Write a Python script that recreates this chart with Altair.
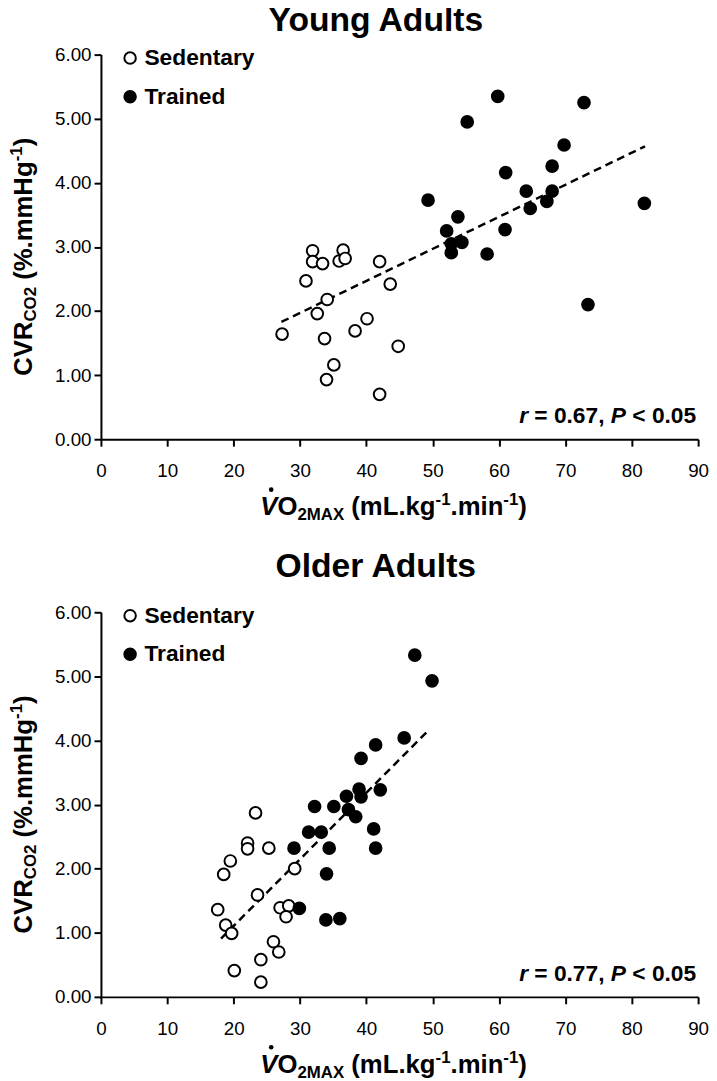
import altair as alt
import pandas as pd

FONT = "Liberation Sans"

# ---------------- data ----------------
panel_titles = ["Young Adults", "Older Adults"]
r_values = ["0.67", "0.77"]
x_ticks = [0, 10, 20, 30, 40, 50, 60, 70, 80, 90]
y_ticks = [0, 1, 2, 3, 4, 5, 6]
groups = ["Sedentary", "Trained"]

young_sed_x = [31.9, 36.5, 31.9, 33.4, 35.9, 36.8, 42.0, 30.9, 43.6, 34.1, 32.6, 40.1, 38.3, 27.3, 33.7, 44.8, 35.1, 34.0, 42.0]
young_sed_y = [2.94, 2.95, 2.77, 2.74, 2.78, 2.82, 2.77, 2.47, 2.42, 2.18, 1.96, 1.88, 1.69, 1.64, 1.57, 1.45, 1.16, 0.93, 0.70]
young_tr_x = [59.8, 72.8, 55.2, 69.8, 68.0, 61.0, 64.1, 68.0, 64.7, 67.2, 49.3, 81.9, 53.8, 52.1, 60.9, 52.8, 54.4, 52.8, 58.2, 73.4]
young_tr_y = [5.35, 5.25, 4.95, 4.59, 4.26, 4.16, 3.87, 3.87, 3.60, 3.71, 3.73, 3.68, 3.47, 3.25, 3.27, 3.05, 3.07, 2.91, 2.89, 2.10]
young_fit_x = [27.2, 82.0]
young_fit_y = [1.83, 4.57]

old_sed_x = [23.3, 22.1, 22.1, 25.3, 19.5, 18.5, 29.2, 23.6, 17.6, 27.0, 28.3, 27.9, 18.8, 19.7, 26.0, 26.8, 24.1, 20.1, 24.1]
old_sed_y = [2.87, 2.40, 2.31, 2.32, 2.12, 1.91, 2.00, 1.59, 1.36, 1.39, 1.42, 1.25, 1.12, 0.99, 0.86, 0.70, 0.58, 0.41, 0.23]
old_tr_x = [47.3, 49.9, 45.7, 41.4, 39.2, 38.9, 42.1, 37.0, 39.2, 32.2, 35.1, 37.3, 38.4, 41.1, 31.3, 33.2, 29.1, 34.4, 41.4, 34.0, 29.9, 33.9, 36.0]
old_tr_y = [5.33, 4.93, 4.04, 3.93, 3.72, 3.24, 3.23, 3.13, 3.12, 2.97, 2.97, 2.92, 2.81, 2.62, 2.57, 2.57, 2.32, 2.32, 2.32, 1.92, 1.38, 1.20, 1.22]
old_fit_x = [18.1, 49.1]
old_fit_y = [0.91, 4.13]

# ---------------- layout ----------------
W, H = 604, 389

AW = {' ': 278, '(': 333, ')': 333, '%': 889, '.': 278, ',': 278, '-': 333, '=': 584, '<': 584,
      'A': 722, 'C': 722, 'H': 722, 'L': 611, 'M': 833, 'O': 778, 'P': 667, 'R': 722, 'V': 667,
      'X': 667, 'a': 556, 'd': 611, 'e': 556, 'g': 611, 'i': 278, 'k': 556, 'l': 278, 'm': 889,
      'n': 611, 'r': 389, 's': 556, 't': 333, 'u': 611, 'y': 556, 'o': 611}


def tw(s, fs):
    return sum(AW.get(c, 556) for c in s) * fs / 1000.0


one = pd.DataFrame({"k": [0]})


def txt(s, x, y, fs, align="left", baseline="alphabetic", angle=0, style="normal"):
    return alt.Chart(one).mark_text(
        text=s, font=FONT, fontSize=fs, fontWeight="bold", fontStyle=style,
        align=align, baseline=baseline, angle=angle, color="black"
    ).encode(x=alt.value(x), y=alt.value(y))


def x_title_layers():
    pieces = [("V", 26, 0, "italic", 0), ("O", 26, 0, "normal", 0), ("2MAX", 17, 5, "normal", 0),
              ("(mL.kg", 26, 0, "normal", tw(" ", 26)), ("-1", 17, -10, "normal", 0),
              (".min", 26, 0, "normal", 0), ("-1", 17, -10, "normal", 0), (")", 26, 0, "normal", 0)]
    total = sum(tw(p[0], p[1]) + p[4] for p in pieces)
    x = 296 - total / 2
    by = H + 77
    out = []
    vx = x
    for s, fs, dy, st, gap in pieces:
        x += gap
        if s == "V":
            vx = x
        out.append(txt(s, x, by + dy, fs, style=st))
        x += tw(s, fs)
    out.append(alt.Chart(one).mark_circle(size=22, color="black", opacity=1).encode(
        x=alt.value(vx + 11), y=alt.value(by - 26)))
    return out


def y_title_layers():
    pieces = [("CVR", 26, 0, 0), ("CO2", 17, 4, 0), ("(%.mmHg", 26, 0, tw(" ", 26)),
              ("-1", 17, -10, 0), (")", 26, 0, 0)]
    total = sum(tw(p[0], p[1]) + p[3] for p in pieces)
    y = H / 2 + total / 2 + 10
    out = []
    for s, fs, dx, gap in pieces:
        y -= gap
        out.append(txt(s, -70 + dx, y, fs, angle=270))
        y -= tw(s, fs)
    return out


def stat_layers(rv):
    fs = 23
    pieces = [("r", "italic", 0), ("= " + rv + ",", "normal", tw(" ", fs)), ("P", "italic", tw(" ", fs)),
              ("< 0.05", "normal", tw(" ", fs))]
    total = sum(tw(p[0], fs) + p[2] for p in pieces)
    x = W - 2 - total
    by = H - 16
    out = []
    for s, st, gap in pieces:
        x += gap
        out.append(txt(s, x, by, fs, style=st))
        x += tw(s, fs)
    return out


def panel(title, sx, sy, tx, ty, fx, fy, rv, title_offset):
    df = pd.DataFrame({
        "x": sx + tx,
        "y": sy + ty,
        "group": [groups[0]] * len(sx) + [groups[1]] * len(tx),
    })
    fit = pd.DataFrame({"x": fx, "y": fy})
    xs = alt.Scale(domain=[0, 90], nice=False, zero=False)
    ys = alt.Scale(domain=[0, 6], nice=False, zero=False)
    xax = alt.Axis(values=x_ticks, title=None, grid=False, domainColor="black", domainWidth=2,
                   tickColor="black", tickWidth=2, tickSize=7, labelFont=FONT, labelFontSize=19,
                   labelColor="black", labelPadding=16, labelFlush=False, labelOverlap=False)
    yax = alt.Axis(values=y_ticks, format=".2f", title=None, grid=False, domainColor="black",
                   domainWidth=2, tickColor="black", tickWidth=2, tickSize=7, labelFont=FONT,
                   labelFontSize=19, labelColor="black", labelPadding=3, labelOverlap=False)
    leg = alt.Legend(orient="none", legendX=18, legendY=-8, title=None, labelFont=FONT,
                     labelFontSize=23, labelFontWeight="bold", labelColor="black",
                     symbolType="circle", symbolSize=135, symbolStrokeColor="black",
                     symbolStrokeWidth=2, rowPadding=15, labelOffset=3, direction="vertical")
    pts = alt.Chart(df).mark_circle(size=140, stroke="black", strokeWidth=2, opacity=1).encode(
        x=alt.X("x:Q", scale=xs, axis=xax),
        y=alt.Y("y:Q", scale=ys, axis=yax),
        fill=alt.Fill("group:N", scale=alt.Scale(domain=groups, range=["white", "black"]), legend=leg),
    )
    line = alt.Chart(fit).mark_line(color="black", strokeWidth=2.5, strokeDash=[8, 5]).encode(
        x=alt.X("x:Q", scale=xs, axis=xax),
        y=alt.Y("y:Q", scale=ys, axis=yax),
    )
    layers = [line, pts] + stat_layers(rv) + x_title_layers() + y_title_layers()
    return alt.layer(*layers).properties(
        width=W, height=H,
        title=alt.TitleParams(title, font=FONT, fontSize=34, fontWeight="bold", color="black",
                              anchor="middle", frame="group", dx=-24, offset=title_offset),
    )


top = panel(panel_titles[0], young_sed_x, young_sed_y, young_tr_x, young_tr_y,
            young_fit_x, young_fit_y, r_values[0], 8)
bottom = panel(panel_titles[1], old_sed_x, old_sed_y, old_tr_x, old_tr_y,
               old_fit_x, old_fit_y, r_values[1], 20)

chart = alt.vconcat(top, bottom, spacing=27).resolve_scale(fill="independent").resolve_legend(
    fill="independent").configure_view(stroke=None).properties(
    padding={"left": -1, "top": -10, "right": 0, "bottom": 0})

chart.save("out.html", embed_options={"renderer": "svg", "actions": False})
